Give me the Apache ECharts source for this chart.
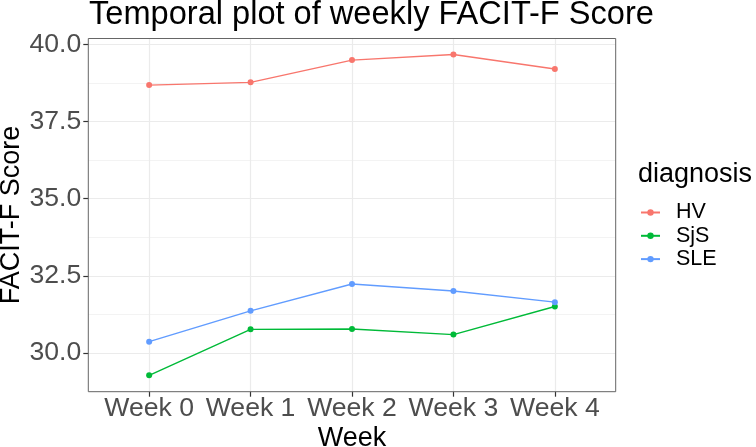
<!DOCTYPE html>
<html>
<head>
<meta charset="utf-8">
<script src="https://cdn.jsdelivr.net/npm/echarts@6/dist/echarts.min.js"></script>
<style>
html,body{margin:0;padding:0;background:#fff;}
#chart{width:756px;height:447px;}
</style>
</head>
<body>
<div id="chart"></div>
<script>
var weeks = ['Week 0', 'Week 1', 'Week 2', 'Week 3', 'Week 4'];
var seriesNames = ['HV', 'SjS', 'SLE'];
var hvValues = [38.68, 38.77, 39.49, 39.67, 39.20];
var sjsValues = [29.28, 30.77, 30.78, 30.60, 31.51];
var sleValues = [30.37, 31.37, 32.24, 32.01, 31.65];
var yMajorTicks = [30, 32.5, 35, 37.5, 40];
var colors = ['#F8766D', '#00BA38', '#619CFF'];

var FONT = 'Liberation Sans';
function pairs(vals) { return vals.map(function (v, i) { return [i, v]; }); }
function isInt(v) { return Math.abs(v - Math.round(v)) < 1e-6; }
function isMajor(v) {
  for (var i = 0; i < yMajorTicks.length; i++) if (Math.abs(v - yMajorTicks[i]) < 1e-6) return true;
  return false;
}

var chart = echarts.init(document.getElementById('chart'), null, {renderer: 'canvas'});
var valuesList = [hvValues, sjsValues, sleValues];
var series = seriesNames.map(function (n, k) {
  return {
    name: n, type: 'line', data: pairs(valuesList[k]),
    symbol: 'circle', symbolSize: 6,
    lineStyle: {width: 1.4, color: colors[k]},
    itemStyle: {color: colors[k]},
    emphasis: {disabled: true},
    animation: false, z: 3 + k
  };
});

chart.setOption({
  animation: false,
  backgroundColor: '#ffffff',
  textStyle: {fontFamily: FONT},
  title: [
    {text: 'Temporal plot of weekly FACIT-F Score', left: 89, top: -1, padding: 0,
     textStyle: {fontFamily: FONT, fontSize: 32.6, fontWeight: 'normal', color: '#000', lineHeight: 33}},
    {text: 'diagnosis', left: 638, top: 161, padding: 0,
     textStyle: {fontFamily: FONT, fontSize: 27, fontWeight: 'normal', color: '#000', lineHeight: 27}}
  ],
  legend: {
    data: seriesNames, orient: 'vertical', left: 640, top: 201.5, padding: 0,
    itemWidth: 19, itemHeight: 8, itemGap: 1.3,
    textStyle: {fontFamily: FONT, fontSize: 21.5, color: '#000', lineHeight: 22, padding: [0, 0, 0, 11]},
    selectedMode: false
  },
  grid: {left: 88.3, right: 140.3, top: 38.5, bottom: 55.3, show: true, z: 10,
         outerBoundsMode: 'none',
         borderColor: '#666', borderWidth: 1, backgroundColor: 'transparent', containLabel: false},
  xAxis: {
    type: 'value', min: -0.6, max: 4.6,
    name: 'Week', nameLocation: 'middle', nameGap: 33, nameMoveOverlap: false,
    nameTextStyle: {fontFamily: FONT, fontSize: 27, color: '#000'},
    axisLine: {show: false},
    axisTick: {show: true, length: 5, customValues: [0, 1, 2, 3, 4], lineStyle: {color: '#333', width: 1.2}},
    axisLabel: {show: true, margin: 3, customValues: [0, 1, 2, 3, 4],
      fontFamily: FONT, fontSize: 26.6, color: '#4D4D4D',
      formatter: function (v) { return isInt(v) && v >= 0 && v < weeks.length ? weeks[Math.round(v)] : ''; }},
    splitLine: {show: true, lineStyle: {color: '#EBEBEB', width: 1.2}}
  },
  yAxis: [
    {
      type: 'value', min: 28.75, max: 40.19, interval: 1.25,
      name: 'FACIT-F Score', nameLocation: 'middle', nameGap: 63, nameMoveOverlap: false,
      nameTextStyle: {fontFamily: FONT, fontSize: 27, color: '#000'},
      axisLine: {show: false}, axisTick: {show: false},
      axisLabel: {show: true, margin: 7, fontFamily: FONT, fontSize: 26.6, color: '#4D4D4D',
        formatter: function (v) { return isMajor(v) ? v.toFixed(1) : ''; }},
      splitLine: {show: true, lineStyle: {color: ['#F3F3F3', '#EBEBEB'], width: 1.2}}
    },
    {
      type: 'value', min: 28.75, max: 40.19, interval: 1.25, position: 'left', offset: 0,
      axisLine: {show: false},
      axisTick: {show: true, length: 5, customValues: yMajorTicks, lineStyle: {color: '#333', width: 1.2}},
      axisLabel: {show: false}, splitLine: {show: false}
    }
  ],
  series: series
});
</script>
</body>
</html>
